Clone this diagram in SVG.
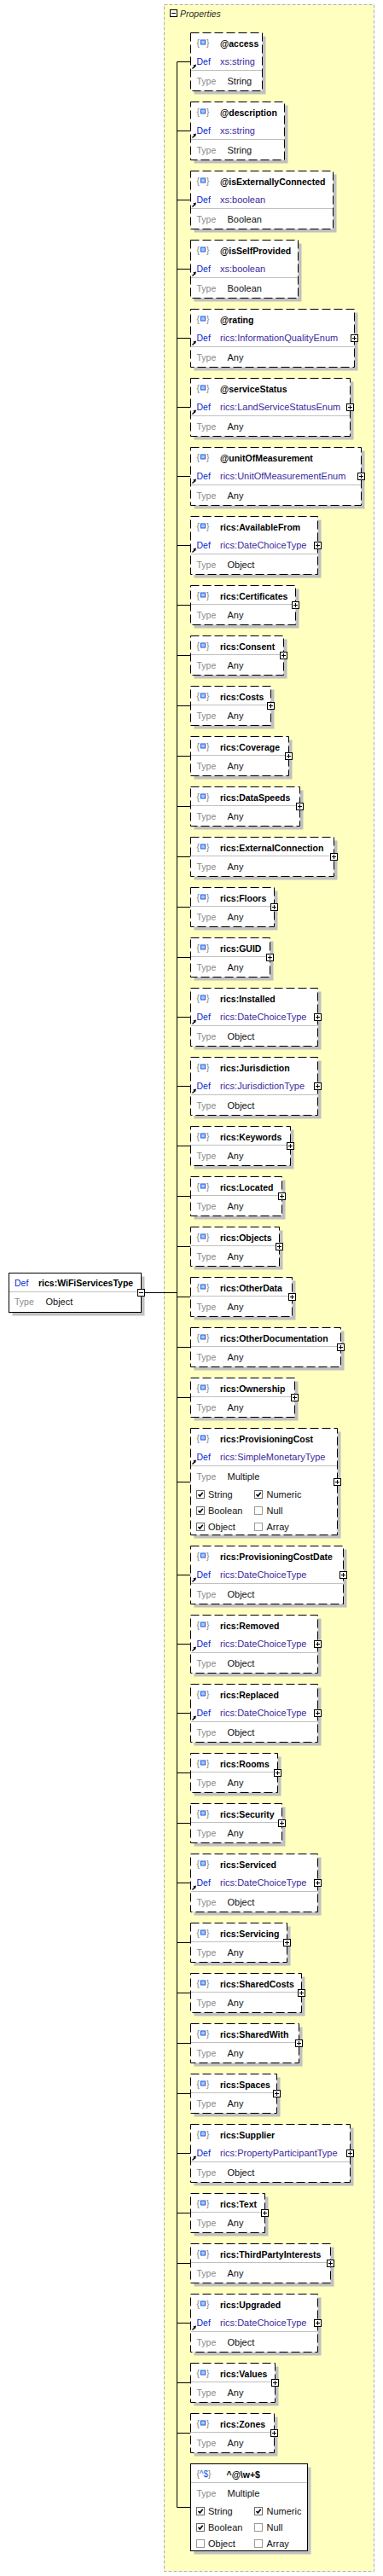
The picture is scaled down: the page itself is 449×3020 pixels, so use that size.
<svg xmlns="http://www.w3.org/2000/svg" xmlns:xlink="http://www.w3.org/1999/xlink" width="449" height="3020" viewBox="0 0 449 3020">
<style>
text{font-family:"Liberation Sans",Arial,sans-serif;font-size:11px}
.ct{fill:#ffffc0;stroke:#b0b0b0;stroke-dasharray:4 2}
.sh{fill:#c0c0c0}
.bx{fill:#fff;stroke:#000}
.op{stroke-dasharray:10 4}
.dl{stroke:#c0c0c0}
.cn{stroke:#000;fill:none}
.nm{font-weight:bold;font-size:10.5px;fill:#000}
.df{fill:#0a28d0;font-size:10.5px}
.dv{fill:#3b2a9e}
.tl{fill:#8a8a8a;font-size:10.5px}
.tv{fill:#111}
.br{fill:#808080;font-size:10px}
.ib{fill:#a8c8ff;stroke:#1a5ae0}
.pr{font-style:italic;fill:#303030;font-size:10.5px}
.cl{fill:#111}
</style>
<defs>
<g id="ico"><text class="br" x="0" y="0">{</text><text class="br" x="11.5" y="0">}</text><rect class="ib" x="5" y="-6.5" width="5" height="5"/></g>
<g id="arr"><path d="M2,42 L4.8,39.2" stroke="#000" stroke-width="1.3"/><path d="M6.5,37 L2.8,38 L5.5,40.7 Z" fill="#000"/></g>
<g id="plus"><rect x="-4" y="-4" width="8" height="8" fill="#fff" stroke="#000"/><path d="M-2.5,0H2.5M0,-2.5V2.5" stroke="#000"/></g>
<g id="minus"><rect x="-4" y="-4" width="8" height="8" fill="#fff" stroke="#000"/><path d="M-2.5,0H2.5" stroke="#000"/></g>
<g id="cbon"><rect x="0" y="0" width="9" height="9" fill="#fff" stroke="#6a6a6a"/><path d="M2,4.5 L3.8,6.6 L7.2,2.2" fill="none" stroke="#000" stroke-width="1.6"/></g>
<g id="cboff"><rect x="0" y="0" width="9" height="9" fill="#fff" stroke="#9a9a9a"/></g>
</defs>

<g id="properties">
<rect class="ct" x="192.5" y="5.5" width="246" height="3009"/>
<use xlink:href="#minus" x="203.5" y="15.5"/>
<text class="pr" x="211" y="19.5">Properties</text>
</g>

<g id="connectors">
<path class="cn" d="M169.5,1515.5H207.5M207.5,72.5V2939.5"/>
<path class="cn" d="M207.5,72.5H223.5M207.5,153.5H223.5M207.5,234.5H223.5M207.5,315.5H223.5M207.5,396.5H223.5M207.5,477.5H223.5M207.5,558.5H223.5M207.5,639.5H223.5M207.5,709.5H223.5M207.5,768.5H223.5M207.5,827.5H223.5M207.5,886.5H223.5M207.5,945.5H223.5M207.5,1004.5H223.5M207.5,1063.5H223.5M207.5,1122.5H223.5M207.5,1192.5H223.5M207.5,1273.5H223.5M207.5,1343.5H223.5M207.5,1402.5H223.5M207.5,1461.5H223.5M207.5,1520.5H223.5M207.5,1579.5H223.5M207.5,1638.5H223.5M207.5,1737.5H223.5M207.5,1846.5H223.5M207.5,1927.5H223.5M207.5,2008.5H223.5M207.5,2078.5H223.5M207.5,2137.5H223.5M207.5,2207.5H223.5M207.5,2277.5H223.5M207.5,2336.5H223.5M207.5,2395.5H223.5M207.5,2454.5H223.5M207.5,2524.5H223.5M207.5,2594.5H223.5M207.5,2653.5H223.5M207.5,2723.5H223.5M207.5,2793.5H223.5M207.5,2852.5H223.5M207.5,2939.5H223.5"/>
</g>

<g id="n-root">
<rect class="sh" x="14.5" y="1496.5" width="155" height="46"/>
<rect class="bx" x="10.5" y="1492.5" width="155" height="46"/>
<text class="df" x="17" y="1508">Def</text>
<text class="nm" x="45" y="1508">rics:WiFiServicesType</text>
<line class="dl" x1="11" y1="1514.5" x2="165" y2="1514.5"/>
<text class="tl" x="17" y="1530">Type</text>
<text class="tv" x="53.5" y="1530">Object</text>
<use xlink:href="#minus" x="165.5" y="1515.5"/>
</g>

<g id="n-access">
<rect class="sh" x="227.5" y="42.5" width="84" height="68"/>
<rect class="bx op" x="223.5" y="38.5" width="84" height="68"/>
<use xlink:href="#ico" x="230.5" y="53.5"/>
<text class="nm" x="258" y="54.5">@access</text>
<use xlink:href="#arr" x="223.5" y="38.5"/>
<text class="df" x="230.5" y="75.5">Def</text>
<text class="dv" x="258" y="75.5">xs:string</text>
<line class="dl" x1="224" y1="82.5" x2="307" y2="82.5"/>
<text class="tl" x="230.5" y="98.5">Type</text>
<text class="tv" x="266.5" y="98.5">String</text>
</g>

<g id="n-description">
<rect class="sh" x="227.5" y="123.5" width="110" height="68"/>
<rect class="bx op" x="223.5" y="119.5" width="110" height="68"/>
<use xlink:href="#ico" x="230.5" y="134.5"/>
<text class="nm" x="258" y="135.5">@description</text>
<use xlink:href="#arr" x="223.5" y="119.5"/>
<text class="df" x="230.5" y="156.5">Def</text>
<text class="dv" x="258" y="156.5">xs:string</text>
<line class="dl" x1="224" y1="163.5" x2="333" y2="163.5"/>
<text class="tl" x="230.5" y="179.5">Type</text>
<text class="tv" x="266.5" y="179.5">String</text>
</g>

<g id="n-isExternallyConnected">
<rect class="sh" x="227.5" y="204.5" width="167" height="68"/>
<rect class="bx op" x="223.5" y="200.5" width="167" height="68"/>
<use xlink:href="#ico" x="230.5" y="215.5"/>
<text class="nm" x="258" y="216.5">@isExternallyConnected</text>
<use xlink:href="#arr" x="223.5" y="200.5"/>
<text class="df" x="230.5" y="237.5">Def</text>
<text class="dv" x="258" y="237.5">xs:boolean</text>
<line class="dl" x1="224" y1="244.5" x2="390" y2="244.5"/>
<text class="tl" x="230.5" y="260.5">Type</text>
<text class="tv" x="266.5" y="260.5">Boolean</text>
</g>

<g id="n-isSelfProvided">
<rect class="sh" x="227.5" y="285.5" width="126" height="68"/>
<rect class="bx op" x="223.5" y="281.5" width="126" height="68"/>
<use xlink:href="#ico" x="230.5" y="296.5"/>
<text class="nm" x="258" y="297.5">@isSelfProvided</text>
<use xlink:href="#arr" x="223.5" y="281.5"/>
<text class="df" x="230.5" y="318.5">Def</text>
<text class="dv" x="258" y="318.5">xs:boolean</text>
<line class="dl" x1="224" y1="325.5" x2="349" y2="325.5"/>
<text class="tl" x="230.5" y="341.5">Type</text>
<text class="tv" x="266.5" y="341.5">Boolean</text>
</g>

<g id="n-rating">
<rect class="sh" x="227.5" y="366.5" width="192" height="68"/>
<rect class="bx op" x="223.5" y="362.5" width="192" height="68"/>
<use xlink:href="#ico" x="230.5" y="377.5"/>
<text class="nm" x="258" y="378.5">@rating</text>
<use xlink:href="#arr" x="223.5" y="362.5"/>
<text class="df" x="230.5" y="399.5">Def</text>
<text class="dv" x="258" y="399.5">rics:InformationQualityEnum</text>
<line class="dl" x1="224" y1="406.5" x2="415" y2="406.5"/>
<text class="tl" x="230.5" y="422.5">Type</text>
<text class="tv" x="266.5" y="422.5">Any</text>
<use xlink:href="#plus" x="415.5" y="396.5"/>
</g>

<g id="n-serviceStatus">
<rect class="sh" x="227.5" y="447.5" width="187" height="68"/>
<rect class="bx op" x="223.5" y="443.5" width="187" height="68"/>
<use xlink:href="#ico" x="230.5" y="458.5"/>
<text class="nm" x="258" y="459.5">@serviceStatus</text>
<use xlink:href="#arr" x="223.5" y="443.5"/>
<text class="df" x="230.5" y="480.5">Def</text>
<text class="dv" x="258" y="480.5">rics:LandServiceStatusEnum</text>
<line class="dl" x1="224" y1="487.5" x2="410" y2="487.5"/>
<text class="tl" x="230.5" y="503.5">Type</text>
<text class="tv" x="266.5" y="503.5">Any</text>
<use xlink:href="#plus" x="410.5" y="477.5"/>
</g>

<g id="n-unitOfMeasurement">
<rect class="sh" x="227.5" y="528.5" width="200" height="68"/>
<rect class="bx op" x="223.5" y="524.5" width="200" height="68"/>
<use xlink:href="#ico" x="230.5" y="539.5"/>
<text class="nm" x="258" y="540.5">@unitOfMeasurement</text>
<use xlink:href="#arr" x="223.5" y="524.5"/>
<text class="df" x="230.5" y="561.5">Def</text>
<text class="dv" x="258" y="561.5">rics:UnitOfMeasurementEnum</text>
<line class="dl" x1="224" y1="568.5" x2="423" y2="568.5"/>
<text class="tl" x="230.5" y="584.5">Type</text>
<text class="tv" x="266.5" y="584.5">Any</text>
<use xlink:href="#plus" x="423.5" y="558.5"/>
</g>

<g id="n-AvailableFrom">
<rect class="sh" x="227.5" y="609.5" width="149" height="68"/>
<rect class="bx op" x="223.5" y="605.5" width="149" height="68"/>
<use xlink:href="#ico" x="230.5" y="620.5"/>
<text class="nm" x="258" y="621.5">rics:AvailableFrom</text>
<use xlink:href="#arr" x="223.5" y="605.5"/>
<text class="df" x="230.5" y="642.5">Def</text>
<text class="dv" x="258" y="642.5">rics:DateChoiceType</text>
<line class="dl" x1="224" y1="649.5" x2="372" y2="649.5"/>
<text class="tl" x="230.5" y="665.5">Type</text>
<text class="tv" x="266.5" y="665.5">Object</text>
<use xlink:href="#plus" x="372.5" y="639.5"/>
</g>

<g id="n-Certificates">
<rect class="sh" x="227.5" y="690.5" width="123" height="46"/>
<rect class="bx op" x="223.5" y="686.5" width="123" height="46"/>
<use xlink:href="#ico" x="230.5" y="701.5"/>
<text class="nm" x="258" y="702.5">rics:Certificates</text>
<line class="dl" x1="224" y1="708.5" x2="346" y2="708.5"/>
<text class="tl" x="230.5" y="724.5">Type</text>
<text class="tv" x="266.5" y="724.5">Any</text>
<use xlink:href="#plus" x="346.5" y="709.5"/>
</g>

<g id="n-Consent">
<rect class="sh" x="227.5" y="749.5" width="109" height="46"/>
<rect class="bx op" x="223.5" y="745.5" width="109" height="46"/>
<use xlink:href="#ico" x="230.5" y="760.5"/>
<text class="nm" x="258" y="761.5">rics:Consent</text>
<line class="dl" x1="224" y1="767.5" x2="332" y2="767.5"/>
<text class="tl" x="230.5" y="783.5">Type</text>
<text class="tv" x="266.5" y="783.5">Any</text>
<use xlink:href="#plus" x="332.5" y="768.5"/>
</g>

<g id="n-Costs">
<rect class="sh" x="227.5" y="808.5" width="94" height="46"/>
<rect class="bx op" x="223.5" y="804.5" width="94" height="46"/>
<use xlink:href="#ico" x="230.5" y="819.5"/>
<text class="nm" x="258" y="820.5">rics:Costs</text>
<line class="dl" x1="224" y1="826.5" x2="317" y2="826.5"/>
<text class="tl" x="230.5" y="842.5">Type</text>
<text class="tv" x="266.5" y="842.5">Any</text>
<use xlink:href="#plus" x="317.5" y="827.5"/>
</g>

<g id="n-Coverage">
<rect class="sh" x="227.5" y="867.5" width="115" height="46"/>
<rect class="bx op" x="223.5" y="863.5" width="115" height="46"/>
<use xlink:href="#ico" x="230.5" y="878.5"/>
<text class="nm" x="258" y="879.5">rics:Coverage</text>
<line class="dl" x1="224" y1="885.5" x2="338" y2="885.5"/>
<text class="tl" x="230.5" y="901.5">Type</text>
<text class="tv" x="266.5" y="901.5">Any</text>
<use xlink:href="#plus" x="338.5" y="886.5"/>
</g>

<g id="n-DataSpeeds">
<rect class="sh" x="227.5" y="926.5" width="128" height="46"/>
<rect class="bx op" x="223.5" y="922.5" width="128" height="46"/>
<use xlink:href="#ico" x="230.5" y="937.5"/>
<text class="nm" x="258" y="938.5">rics:DataSpeeds</text>
<line class="dl" x1="224" y1="944.5" x2="351" y2="944.5"/>
<text class="tl" x="230.5" y="960.5">Type</text>
<text class="tv" x="266.5" y="960.5">Any</text>
<use xlink:href="#plus" x="351.5" y="945.5"/>
</g>

<g id="n-ExternalConnection">
<rect class="sh" x="227.5" y="985.5" width="168" height="46"/>
<rect class="bx op" x="223.5" y="981.5" width="168" height="46"/>
<use xlink:href="#ico" x="230.5" y="996.5"/>
<text class="nm" x="258" y="997.5">rics:ExternalConnection</text>
<line class="dl" x1="224" y1="1003.5" x2="391" y2="1003.5"/>
<text class="tl" x="230.5" y="1019.5">Type</text>
<text class="tv" x="266.5" y="1019.5">Any</text>
<use xlink:href="#plus" x="391.5" y="1004.5"/>
</g>

<g id="n-Floors">
<rect class="sh" x="227.5" y="1044.5" width="98" height="46"/>
<rect class="bx op" x="223.5" y="1040.5" width="98" height="46"/>
<use xlink:href="#ico" x="230.5" y="1055.5"/>
<text class="nm" x="258" y="1056.5">rics:Floors</text>
<line class="dl" x1="224" y1="1062.5" x2="321" y2="1062.5"/>
<text class="tl" x="230.5" y="1078.5">Type</text>
<text class="tv" x="266.5" y="1078.5">Any</text>
<use xlink:href="#plus" x="321.5" y="1063.5"/>
</g>

<g id="n-GUID">
<rect class="sh" x="227.5" y="1103.5" width="93" height="46"/>
<rect class="bx op" x="223.5" y="1099.5" width="93" height="46"/>
<use xlink:href="#ico" x="230.5" y="1114.5"/>
<text class="nm" x="258" y="1115.5">rics:GUID</text>
<line class="dl" x1="224" y1="1121.5" x2="316" y2="1121.5"/>
<text class="tl" x="230.5" y="1137.5">Type</text>
<text class="tv" x="266.5" y="1137.5">Any</text>
<use xlink:href="#plus" x="316.5" y="1122.5"/>
</g>

<g id="n-Installed">
<rect class="sh" x="227.5" y="1162.5" width="149" height="68"/>
<rect class="bx op" x="223.5" y="1158.5" width="149" height="68"/>
<use xlink:href="#ico" x="230.5" y="1173.5"/>
<text class="nm" x="258" y="1174.5">rics:Installed</text>
<use xlink:href="#arr" x="223.5" y="1158.5"/>
<text class="df" x="230.5" y="1195.5">Def</text>
<text class="dv" x="258" y="1195.5">rics:DateChoiceType</text>
<line class="dl" x1="224" y1="1202.5" x2="372" y2="1202.5"/>
<text class="tl" x="230.5" y="1218.5">Type</text>
<text class="tv" x="266.5" y="1218.5">Object</text>
<use xlink:href="#plus" x="372.5" y="1192.5"/>
</g>

<g id="n-Jurisdiction">
<rect class="sh" x="227.5" y="1243.5" width="149" height="68"/>
<rect class="bx op" x="223.5" y="1239.5" width="149" height="68"/>
<use xlink:href="#ico" x="230.5" y="1254.5"/>
<text class="nm" x="258" y="1255.5">rics:Jurisdiction</text>
<use xlink:href="#arr" x="223.5" y="1239.5"/>
<text class="df" x="230.5" y="1276.5">Def</text>
<text class="dv" x="258" y="1276.5">rics:JurisdictionType</text>
<line class="dl" x1="224" y1="1283.5" x2="372" y2="1283.5"/>
<text class="tl" x="230.5" y="1299.5">Type</text>
<text class="tv" x="266.5" y="1299.5">Object</text>
<use xlink:href="#plus" x="372.5" y="1273.5"/>
</g>

<g id="n-Keywords">
<rect class="sh" x="227.5" y="1324.5" width="117" height="46"/>
<rect class="bx op" x="223.5" y="1320.5" width="117" height="46"/>
<use xlink:href="#ico" x="230.5" y="1335.5"/>
<text class="nm" x="258" y="1336.5">rics:Keywords</text>
<line class="dl" x1="224" y1="1342.5" x2="340" y2="1342.5"/>
<text class="tl" x="230.5" y="1358.5">Type</text>
<text class="tv" x="266.5" y="1358.5">Any</text>
<use xlink:href="#plus" x="340.5" y="1343.5"/>
</g>

<g id="n-Located">
<rect class="sh" x="227.5" y="1383.5" width="107" height="46"/>
<rect class="bx op" x="223.5" y="1379.5" width="107" height="46"/>
<use xlink:href="#ico" x="230.5" y="1394.5"/>
<text class="nm" x="258" y="1395.5">rics:Located</text>
<line class="dl" x1="224" y1="1401.5" x2="330" y2="1401.5"/>
<text class="tl" x="230.5" y="1417.5">Type</text>
<text class="tv" x="266.5" y="1417.5">Any</text>
<use xlink:href="#plus" x="330.5" y="1402.5"/>
</g>

<g id="n-Objects">
<rect class="sh" x="227.5" y="1442.5" width="104" height="46"/>
<rect class="bx op" x="223.5" y="1438.5" width="104" height="46"/>
<use xlink:href="#ico" x="230.5" y="1453.5"/>
<text class="nm" x="258" y="1454.5">rics:Objects</text>
<line class="dl" x1="224" y1="1460.5" x2="327" y2="1460.5"/>
<text class="tl" x="230.5" y="1476.5">Type</text>
<text class="tv" x="266.5" y="1476.5">Any</text>
<use xlink:href="#plus" x="327.5" y="1461.5"/>
</g>

<g id="n-OtherData">
<rect class="sh" x="227.5" y="1501.5" width="119" height="46"/>
<rect class="bx op" x="223.5" y="1497.5" width="119" height="46"/>
<use xlink:href="#ico" x="230.5" y="1512.5"/>
<text class="nm" x="258" y="1513.5">rics:OtherData</text>
<line class="dl" x1="224" y1="1519.5" x2="342" y2="1519.5"/>
<text class="tl" x="230.5" y="1535.5">Type</text>
<text class="tv" x="266.5" y="1535.5">Any</text>
<use xlink:href="#plus" x="342.5" y="1520.5"/>
</g>

<g id="n-OtherDocumentation">
<rect class="sh" x="227.5" y="1560.5" width="176" height="46"/>
<rect class="bx op" x="223.5" y="1556.5" width="176" height="46"/>
<use xlink:href="#ico" x="230.5" y="1571.5"/>
<text class="nm" x="258" y="1572.5">rics:OtherDocumentation</text>
<line class="dl" x1="224" y1="1578.5" x2="399" y2="1578.5"/>
<text class="tl" x="230.5" y="1594.5">Type</text>
<text class="tv" x="266.5" y="1594.5">Any</text>
<use xlink:href="#plus" x="399.5" y="1579.5"/>
</g>

<g id="n-Ownership">
<rect class="sh" x="227.5" y="1619.5" width="122" height="46"/>
<rect class="bx op" x="223.5" y="1615.5" width="122" height="46"/>
<use xlink:href="#ico" x="230.5" y="1630.5"/>
<text class="nm" x="258" y="1631.5">rics:Ownership</text>
<line class="dl" x1="224" y1="1637.5" x2="345" y2="1637.5"/>
<text class="tl" x="230.5" y="1653.5">Type</text>
<text class="tv" x="266.5" y="1653.5">Any</text>
<use xlink:href="#plus" x="345.5" y="1638.5"/>
</g>

<g id="n-ProvisioningCost">
<rect class="sh" x="227.5" y="1678.5" width="172" height="125"/>
<rect class="bx op" x="223.5" y="1674.5" width="172" height="125"/>
<use xlink:href="#ico" x="230.5" y="1689.5"/>
<text class="nm" x="258" y="1690.5">rics:ProvisioningCost</text>
<use xlink:href="#arr" x="223.5" y="1674.5"/>
<text class="df" x="230.5" y="1711.5">Def</text>
<text class="dv" x="258" y="1711.5">rics:SimpleMonetaryType</text>
<line class="dl" x1="224" y1="1718.5" x2="395" y2="1718.5"/>
<text class="tl" x="230.5" y="1734.5">Type</text>
<text class="tv" x="266.5" y="1734.5">Multiple</text>
<use xlink:href="#cbon" x="230.5" y="1747.5"/>
<text class="cl" x="244" y="1756">String</text>
<use xlink:href="#cbon" x="298.5" y="1747.5"/>
<text class="cl" x="312.5" y="1756">Numeric</text>
<use xlink:href="#cbon" x="230.5" y="1766.5"/>
<text class="cl" x="244" y="1775">Boolean</text>
<use xlink:href="#cboff" x="298.5" y="1766.5"/>
<text class="cl" x="312.5" y="1775">Null</text>
<use xlink:href="#cbon" x="230.5" y="1785.5"/>
<text class="cl" x="244" y="1794">Object</text>
<use xlink:href="#cboff" x="298.5" y="1785.5"/>
<text class="cl" x="312.5" y="1794">Array</text>
<use xlink:href="#plus" x="395.5" y="1737.5"/>
</g>

<g id="n-ProvisioningCostDate">
<rect class="sh" x="227.5" y="1816.5" width="179" height="68"/>
<rect class="bx op" x="223.5" y="1812.5" width="179" height="68"/>
<use xlink:href="#ico" x="230.5" y="1827.5"/>
<text class="nm" x="258" y="1828.5">rics:ProvisioningCostDate</text>
<use xlink:href="#arr" x="223.5" y="1812.5"/>
<text class="df" x="230.5" y="1849.5">Def</text>
<text class="dv" x="258" y="1849.5">rics:DateChoiceType</text>
<line class="dl" x1="224" y1="1856.5" x2="402" y2="1856.5"/>
<text class="tl" x="230.5" y="1872.5">Type</text>
<text class="tv" x="266.5" y="1872.5">Object</text>
<use xlink:href="#plus" x="402.5" y="1846.5"/>
</g>

<g id="n-Removed">
<rect class="sh" x="227.5" y="1897.5" width="149" height="68"/>
<rect class="bx op" x="223.5" y="1893.5" width="149" height="68"/>
<use xlink:href="#ico" x="230.5" y="1908.5"/>
<text class="nm" x="258" y="1909.5">rics:Removed</text>
<use xlink:href="#arr" x="223.5" y="1893.5"/>
<text class="df" x="230.5" y="1930.5">Def</text>
<text class="dv" x="258" y="1930.5">rics:DateChoiceType</text>
<line class="dl" x1="224" y1="1937.5" x2="372" y2="1937.5"/>
<text class="tl" x="230.5" y="1953.5">Type</text>
<text class="tv" x="266.5" y="1953.5">Object</text>
<use xlink:href="#plus" x="372.5" y="1927.5"/>
</g>

<g id="n-Replaced">
<rect class="sh" x="227.5" y="1978.5" width="149" height="68"/>
<rect class="bx op" x="223.5" y="1974.5" width="149" height="68"/>
<use xlink:href="#ico" x="230.5" y="1989.5"/>
<text class="nm" x="258" y="1990.5">rics:Replaced</text>
<use xlink:href="#arr" x="223.5" y="1974.5"/>
<text class="df" x="230.5" y="2011.5">Def</text>
<text class="dv" x="258" y="2011.5">rics:DateChoiceType</text>
<line class="dl" x1="224" y1="2018.5" x2="372" y2="2018.5"/>
<text class="tl" x="230.5" y="2034.5">Type</text>
<text class="tv" x="266.5" y="2034.5">Object</text>
<use xlink:href="#plus" x="372.5" y="2008.5"/>
</g>

<g id="n-Rooms">
<rect class="sh" x="227.5" y="2059.5" width="102" height="46"/>
<rect class="bx op" x="223.5" y="2055.5" width="102" height="46"/>
<use xlink:href="#ico" x="230.5" y="2070.5"/>
<text class="nm" x="258" y="2071.5">rics:Rooms</text>
<line class="dl" x1="224" y1="2077.5" x2="325" y2="2077.5"/>
<text class="tl" x="230.5" y="2093.5">Type</text>
<text class="tv" x="266.5" y="2093.5">Any</text>
<use xlink:href="#plus" x="325.5" y="2078.5"/>
</g>

<g id="n-Security">
<rect class="sh" x="227.5" y="2118.5" width="107" height="46"/>
<rect class="bx op" x="223.5" y="2114.5" width="107" height="46"/>
<use xlink:href="#ico" x="230.5" y="2129.5"/>
<text class="nm" x="258" y="2130.5">rics:Security</text>
<line class="dl" x1="224" y1="2136.5" x2="330" y2="2136.5"/>
<text class="tl" x="230.5" y="2152.5">Type</text>
<text class="tv" x="266.5" y="2152.5">Any</text>
<use xlink:href="#plus" x="330.5" y="2137.5"/>
</g>

<g id="n-Serviced">
<rect class="sh" x="227.5" y="2177.5" width="149" height="68"/>
<rect class="bx op" x="223.5" y="2173.5" width="149" height="68"/>
<use xlink:href="#ico" x="230.5" y="2188.5"/>
<text class="nm" x="258" y="2189.5">rics:Serviced</text>
<use xlink:href="#arr" x="223.5" y="2173.5"/>
<text class="df" x="230.5" y="2210.5">Def</text>
<text class="dv" x="258" y="2210.5">rics:DateChoiceType</text>
<line class="dl" x1="224" y1="2217.5" x2="372" y2="2217.5"/>
<text class="tl" x="230.5" y="2233.5">Type</text>
<text class="tv" x="266.5" y="2233.5">Object</text>
<use xlink:href="#plus" x="372.5" y="2207.5"/>
</g>

<g id="n-Servicing">
<rect class="sh" x="227.5" y="2258.5" width="113" height="46"/>
<rect class="bx op" x="223.5" y="2254.5" width="113" height="46"/>
<use xlink:href="#ico" x="230.5" y="2269.5"/>
<text class="nm" x="258" y="2270.5">rics:Servicing</text>
<line class="dl" x1="224" y1="2276.5" x2="336" y2="2276.5"/>
<text class="tl" x="230.5" y="2292.5">Type</text>
<text class="tv" x="266.5" y="2292.5">Any</text>
<use xlink:href="#plus" x="336.5" y="2277.5"/>
</g>

<g id="n-SharedCosts">
<rect class="sh" x="227.5" y="2317.5" width="130" height="46"/>
<rect class="bx op" x="223.5" y="2313.5" width="130" height="46"/>
<use xlink:href="#ico" x="230.5" y="2328.5"/>
<text class="nm" x="258" y="2329.5">rics:SharedCosts</text>
<line class="dl" x1="224" y1="2335.5" x2="353" y2="2335.5"/>
<text class="tl" x="230.5" y="2351.5">Type</text>
<text class="tv" x="266.5" y="2351.5">Any</text>
<use xlink:href="#plus" x="353.5" y="2336.5"/>
</g>

<g id="n-SharedWith">
<rect class="sh" x="227.5" y="2376.5" width="127" height="46"/>
<rect class="bx op" x="223.5" y="2372.5" width="127" height="46"/>
<use xlink:href="#ico" x="230.5" y="2387.5"/>
<text class="nm" x="258" y="2388.5">rics:SharedWith</text>
<line class="dl" x1="224" y1="2394.5" x2="350" y2="2394.5"/>
<text class="tl" x="230.5" y="2410.5">Type</text>
<text class="tv" x="266.5" y="2410.5">Any</text>
<use xlink:href="#plus" x="350.5" y="2395.5"/>
</g>

<g id="n-Spaces">
<rect class="sh" x="227.5" y="2435.5" width="101" height="46"/>
<rect class="bx op" x="223.5" y="2431.5" width="101" height="46"/>
<use xlink:href="#ico" x="230.5" y="2446.5"/>
<text class="nm" x="258" y="2447.5">rics:Spaces</text>
<line class="dl" x1="224" y1="2453.5" x2="324" y2="2453.5"/>
<text class="tl" x="230.5" y="2469.5">Type</text>
<text class="tv" x="266.5" y="2469.5">Any</text>
<use xlink:href="#plus" x="324.5" y="2454.5"/>
</g>

<g id="n-Supplier">
<rect class="sh" x="227.5" y="2494.5" width="187" height="68"/>
<rect class="bx op" x="223.5" y="2490.5" width="187" height="68"/>
<use xlink:href="#ico" x="230.5" y="2505.5"/>
<text class="nm" x="258" y="2506.5">rics:Supplier</text>
<use xlink:href="#arr" x="223.5" y="2490.5"/>
<text class="df" x="230.5" y="2527.5">Def</text>
<text class="dv" x="258" y="2527.5">rics:PropertyParticipantType</text>
<line class="dl" x1="224" y1="2534.5" x2="410" y2="2534.5"/>
<text class="tl" x="230.5" y="2550.5">Type</text>
<text class="tv" x="266.5" y="2550.5">Object</text>
<use xlink:href="#plus" x="410.5" y="2524.5"/>
</g>

<g id="n-Text">
<rect class="sh" x="227.5" y="2575.5" width="87" height="46"/>
<rect class="bx op" x="223.5" y="2571.5" width="87" height="46"/>
<use xlink:href="#ico" x="230.5" y="2586.5"/>
<text class="nm" x="258" y="2587.5">rics:Text</text>
<line class="dl" x1="224" y1="2593.5" x2="310" y2="2593.5"/>
<text class="tl" x="230.5" y="2609.5">Type</text>
<text class="tv" x="266.5" y="2609.5">Any</text>
<use xlink:href="#plus" x="310.5" y="2594.5"/>
</g>

<g id="n-ThirdPartyInterests">
<rect class="sh" x="227.5" y="2634.5" width="164" height="46"/>
<rect class="bx op" x="223.5" y="2630.5" width="164" height="46"/>
<use xlink:href="#ico" x="230.5" y="2645.5"/>
<text class="nm" x="258" y="2646.5">rics:ThirdPartyInterests</text>
<line class="dl" x1="224" y1="2652.5" x2="387" y2="2652.5"/>
<text class="tl" x="230.5" y="2668.5">Type</text>
<text class="tv" x="266.5" y="2668.5">Any</text>
<use xlink:href="#plus" x="387.5" y="2653.5"/>
</g>

<g id="n-Upgraded">
<rect class="sh" x="227.5" y="2693.5" width="149" height="68"/>
<rect class="bx op" x="223.5" y="2689.5" width="149" height="68"/>
<use xlink:href="#ico" x="230.5" y="2704.5"/>
<text class="nm" x="258" y="2705.5">rics:Upgraded</text>
<use xlink:href="#arr" x="223.5" y="2689.5"/>
<text class="df" x="230.5" y="2726.5">Def</text>
<text class="dv" x="258" y="2726.5">rics:DateChoiceType</text>
<line class="dl" x1="224" y1="2733.5" x2="372" y2="2733.5"/>
<text class="tl" x="230.5" y="2749.5">Type</text>
<text class="tv" x="266.5" y="2749.5">Object</text>
<use xlink:href="#plus" x="372.5" y="2723.5"/>
</g>

<g id="n-Values">
<rect class="sh" x="227.5" y="2774.5" width="99" height="46"/>
<rect class="bx op" x="223.5" y="2770.5" width="99" height="46"/>
<use xlink:href="#ico" x="230.5" y="2785.5"/>
<text class="nm" x="258" y="2786.5">rics:Values</text>
<line class="dl" x1="224" y1="2792.5" x2="322" y2="2792.5"/>
<text class="tl" x="230.5" y="2808.5">Type</text>
<text class="tv" x="266.5" y="2808.5">Any</text>
<use xlink:href="#plus" x="322.5" y="2793.5"/>
</g>

<g id="n-Zones">
<rect class="sh" x="227.5" y="2833.5" width="98" height="46"/>
<rect class="bx op" x="223.5" y="2829.5" width="98" height="46"/>
<use xlink:href="#ico" x="230.5" y="2844.5"/>
<text class="nm" x="258" y="2845.5">rics:Zones</text>
<line class="dl" x1="224" y1="2851.5" x2="321" y2="2851.5"/>
<text class="tl" x="230.5" y="2867.5">Type</text>
<text class="tv" x="266.5" y="2867.5">Any</text>
<use xlink:href="#plus" x="321.5" y="2852.5"/>
</g>

<g id="n-pattern">
<rect class="sh" x="227.5" y="2892.5" width="137" height="102"/>
<rect class="bx" x="223.5" y="2888.5" width="137" height="102"/>
<text class="br" x="230.5" y="2903.5">{<tspan fill="#1a5ae0">^$</tspan>}</text>
<text class="nm" x="265.5" y="2904.5">^@\w+$</text>
<line class="dl" x1="224" y1="2910.5" x2="360" y2="2910.5"/>
<text class="tl" x="230.5" y="2926.5">Type</text>
<text class="tv" x="266.5" y="2926.5">Multiple</text>
<use xlink:href="#cbon" x="230.5" y="2939.5"/>
<text class="cl" x="244" y="2948">String</text>
<use xlink:href="#cbon" x="298.5" y="2939.5"/>
<text class="cl" x="312.5" y="2948">Numeric</text>
<use xlink:href="#cbon" x="230.5" y="2958.5"/>
<text class="cl" x="244" y="2967">Boolean</text>
<use xlink:href="#cboff" x="298.5" y="2958.5"/>
<text class="cl" x="312.5" y="2967">Null</text>
<use xlink:href="#cboff" x="230.5" y="2977.5"/>
<text class="cl" x="244" y="2986">Object</text>
<use xlink:href="#cboff" x="298.5" y="2977.5"/>
<text class="cl" x="312.5" y="2986">Array</text>
</g>
</svg>
